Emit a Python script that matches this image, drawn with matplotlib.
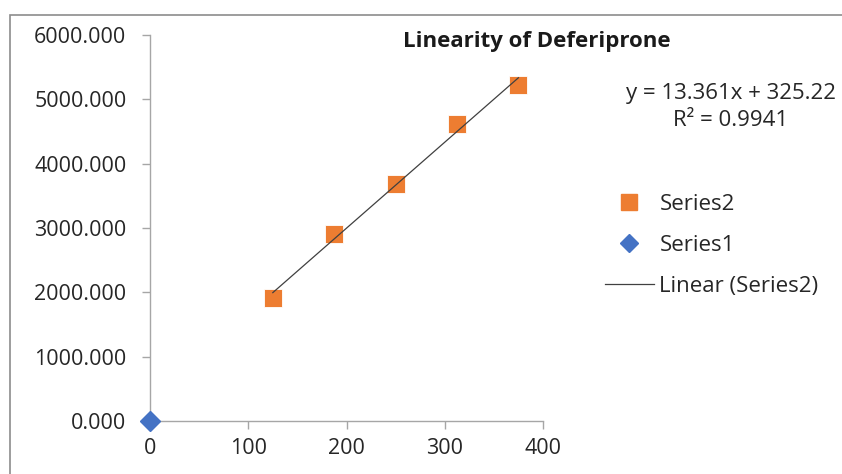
import matplotlib.pyplot as plt
from matplotlib.lines import Line2D
from matplotlib.patches import Rectangle

# data
conc = [125, 187.5, 250, 312.5, 375]
area = [1912, 2907, 3684, 4617, 5223]
blank_x = [0]
blank_y = [0]
slope = 13.361
intercept = 325.22
r2 = 0.9941
y_ticks = [0, 1000, 2000, 3000, 4000, 5000, 6000]
x_ticks = [0, 100, 200, 300, 400]

orange = '#ED7D31'
blue = '#4472C4'
grey = '#A6A6A6'

plt.rcParams['font.family'] = ['Open Sans', 'DejaVu Sans']

fig = plt.figure(figsize=(8.42, 4.74), dpi=100)
ax = fig.add_axes([150 / 842, 1 - 421 / 474, 393 / 842, 386 / 474])

# outer chart frame (cut off on right and bottom)
fig.patches.append(Rectangle((10 / 842, -0.05), 1.1, 1 - 15 / 474 + 0.05,
                             transform=fig.transFigure, fill=False,
                             edgecolor='#8C8C8C', linewidth=1.2))

ax.plot(conc, area, linestyle='none', marker='s', markersize=13,
        color=orange, markeredgecolor='white', markeredgewidth=0.6, zorder=3)
ax.plot(blank_x, blank_y, linestyle='none', marker='D', markersize=10,
        color=blue, zorder=4, clip_on=False)

trend_x = [min(conc), max(conc)]
trend_y = [slope * x + intercept for x in trend_x]
ax.plot(trend_x, trend_y, color='#404040', linewidth=0.9, zorder=4)

ax.set_xlim(0, 400)
ax.set_ylim(0, 6000)
ax.set_xticks(x_ticks)
ax.set_yticks(y_ticks)
ax.set_yticklabels([f'{v:.3f}' for v in y_ticks])
ax.set_xticklabels([str(v) for v in x_ticks])

for side in ['top', 'right']:
    ax.spines[side].set_visible(False)
for side in ['left', 'bottom']:
    ax.spines[side].set_color(grey)
    ax.spines[side].set_linewidth(1.0)
ax.tick_params(axis='both', colors=grey, labelcolor='#262626', labelsize=15.5,
               length=6, width=1.0, direction='out')
ax.tick_params(axis='y', pad=11)
ax.tick_params(axis='x', pad=6)

fig.text(537 / 842, 1 - 41 / 474, 'Linearity of Deferiprone', ha='center',
         va='center', fontsize=16, fontweight='bold', color='#1a1a1a')

fig.text(731 / 842, 1 - 94 / 474, f'y = {slope}x + {intercept}', ha='center',
         va='center', fontsize=16, color='#262626')
fig.text(731 / 842, 1 - 121 / 474, f'R² = {r2}', ha='center',
         va='center', fontsize=16, color='#262626')

handles = [
    Line2D([], [], linestyle='none', marker='s', markersize=12, color=orange),
    Line2D([], [], linestyle='none', marker='D', markersize=9, color=blue),
    Line2D([], [], color='#404040', linewidth=0.9),
]
labels = ['Series2', 'Series1', 'Linear (Series2)']
fig.legend(handles, labels, loc='upper left',
           bbox_to_anchor=(605 / 842, 1 - 194 / 474), frameon=False,
           fontsize=16, handlelength=2.2, handletextpad=0.25,
           labelspacing=0.9, borderpad=0, borderaxespad=0,
           labelcolor='#262626')

fig.savefig('out.png', dpi=100)
